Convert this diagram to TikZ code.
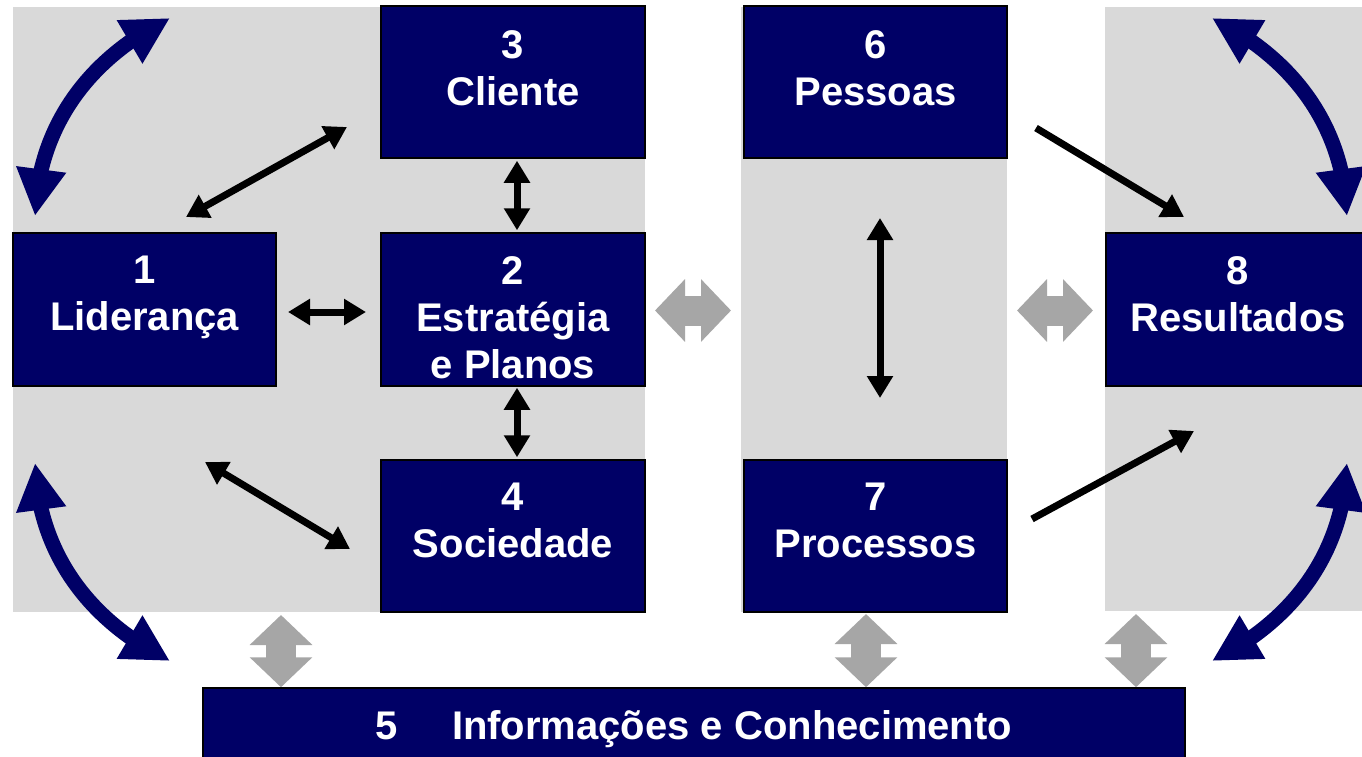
\documentclass[tikz,border=0pt]{standalone}
\usepackage{fontspec}
\setmainfont{Liberation Sans}
\usetikzlibrary{arrows.meta,bending,calc}
\definecolor{navy}{HTML}{000066}
\definecolor{panelgray}{HTML}{D9D9D9}
\definecolor{arrowgray}{HTML}{A6A6A6}
\begin{document}
\begin{tikzpicture}[x=1pt,y=-1pt,
  panel/.style={fill=panelgray, draw=none},
  box/.style={rectangle, draw=black, line width=1.5pt, fill=navy, inner sep=0pt},
  lbl/.style={text=white, font=\fontsize{40}{47}\selectfont\bfseries, align=center, inner sep=0pt},
  blktip/.tip={Triangle[length=22pt,width=25pt]},
  navytip/.tip={Triangle[length=47pt,width=47pt]},
  graytip/.tip={Triangle[length=30pt,width=61pt]},
  blk/.style={draw=black, line width=7pt, blktip-blktip},
  blkone/.style={draw=black, line width=7pt, -blktip},
  navyarr/.style={draw=navy, line width=15pt, navytip-navytip},
  grayarr/.style={draw=arrowgray, line width=30pt, graytip-graytip}
]
\useasboundingbox (0,0) rectangle (1362,757);
\clip (0,0) rectangle (1362,757);
\fill[white] (0,0) rectangle (1362,757);

% gray panels
\path[panel] (13,7) rectangle (645,612);
\path[panel] (741,7) rectangle (1007,612);
\path[panel] (1105,7) rectangle (1370,611);

% boxes
\node[box, minimum width=264pt, minimum height=152pt] (b3) at (513,82) {};
\node[box, minimum width=264pt, minimum height=153pt] (b2) at (513,309.5) {};
\node[box, minimum width=264pt, minimum height=152pt] (b4) at (513,536) {};
\node[box, minimum width=263pt, minimum height=153pt] (b1) at (144.5,309.5) {};
\node[box, minimum width=263pt, minimum height=152pt] (b6) at (875.5,82) {};
\node[box, minimum width=263pt, minimum height=152pt] (b7) at (875.5,536) {};
\node[box, minimum width=264pt, minimum height=153pt] (b8) at (1238,309.5) {};
\node[box, minimum width=982pt, minimum height=92pt] (b5) at (694,734) {};

% labels
\node[lbl, anchor=north] (t3) at (513,30) {3\\Cliente};
\node[lbl, anchor=north] (t2) at (513,256) {2\\Estratégia\\e Planos};
\node[lbl, anchor=north] (t4) at (513,483) {4\\Sociedade};
\node[lbl, anchor=north] (t1) at (144.5,256) {1\\Liderança};
\node[lbl, anchor=north] (t6) at (875.5,30) {6\\Pessoas};
\node[lbl, anchor=north] (t7) at (875.5,483) {7\\Processos};
\node[lbl, anchor=north] (t8) at (1238,256) {8\\Resultados};
\node[lbl, anchor=base] (t5) at (694,739) {5\hspace{54pt}Informações e Conhecimento};

% black arrows
\coordinate (p1a) at (186,217);
\coordinate (p3a) at (347,127);
\coordinate (p1b) at (205,462);
\coordinate (p4b) at (350,549);
\coordinate (p1c) at (288,312);
\coordinate (p2c) at (366,312);
\coordinate (p6a) at (880,218);
\coordinate (p7a) at (880,398);
\coordinate (p6s) at (1036,128);
\coordinate (p8s) at (1184,217);
\coordinate (p7s) at (1032,519);
\coordinate (p8t) at (1194,431);
\draw[blk] (p1a) -- (p3a);
\draw[blk] (p1b) -- (p4b);
\draw[blk] (p1c) -- (p2c);
\draw[blk] ([xshift=4pt,yshift=-2pt]b3.south) -- ([xshift=4pt,yshift=2pt]b2.north);
\draw[blk] ([xshift=4pt,yshift=-1pt]b2.south) -- ([xshift=4pt,yshift=2pt]b4.north);
\draw[blk] (p6a) -- (p7a);
\draw[blkone] (p6s) -- (p8s);
\draw[blkone] (p7s) -- (p8t);

% gray block arrows
\coordinate (g1a) at (655,310.5);
\coordinate (g1b) at (731,310.5);
\coordinate (g2a) at (1017,310.5);
\coordinate (g2b) at (1093,310.5);
\coordinate (g3a) at (281,615);
\coordinate (g4a) at (866,614);
\coordinate (g5a) at (1136,614);
\draw[grayarr] (g1a) -- (g1b);
\draw[grayarr] (g2a) -- (g2b);
\draw[grayarr] (g3a) -- (g3a |- b5.north);
\draw[grayarr] (g4a) -- (g4a |- b5.north);
\draw[grayarr] (g5a) -- (g5a |- b5.north);

% navy curved arrows
\coordinate (c1a) at (35,216);
\coordinate (c1b) at (170,18);
\coordinate (c2a) at (35,463);
\coordinate (c2b) at (170,661);
\coordinate (c3a) at (1347,216);
\coordinate (c3b) at (1212,18);
\coordinate (c4a) at (1347,463);
\coordinate (c4b) at (1212,661);
\draw[navyarr] (c1a) .. controls (38,130) and (85,60) .. (c1b);
\draw[navyarr] (c2a) .. controls (38,549) and (85,619) .. (c2b);
\draw[navyarr] (c3a) .. controls (1344,130) and (1297,60) .. (c3b);
\draw[navyarr] (c4a) .. controls (1344,549) and (1297,619) .. (c4b);
\end{tikzpicture}
\end{document}
